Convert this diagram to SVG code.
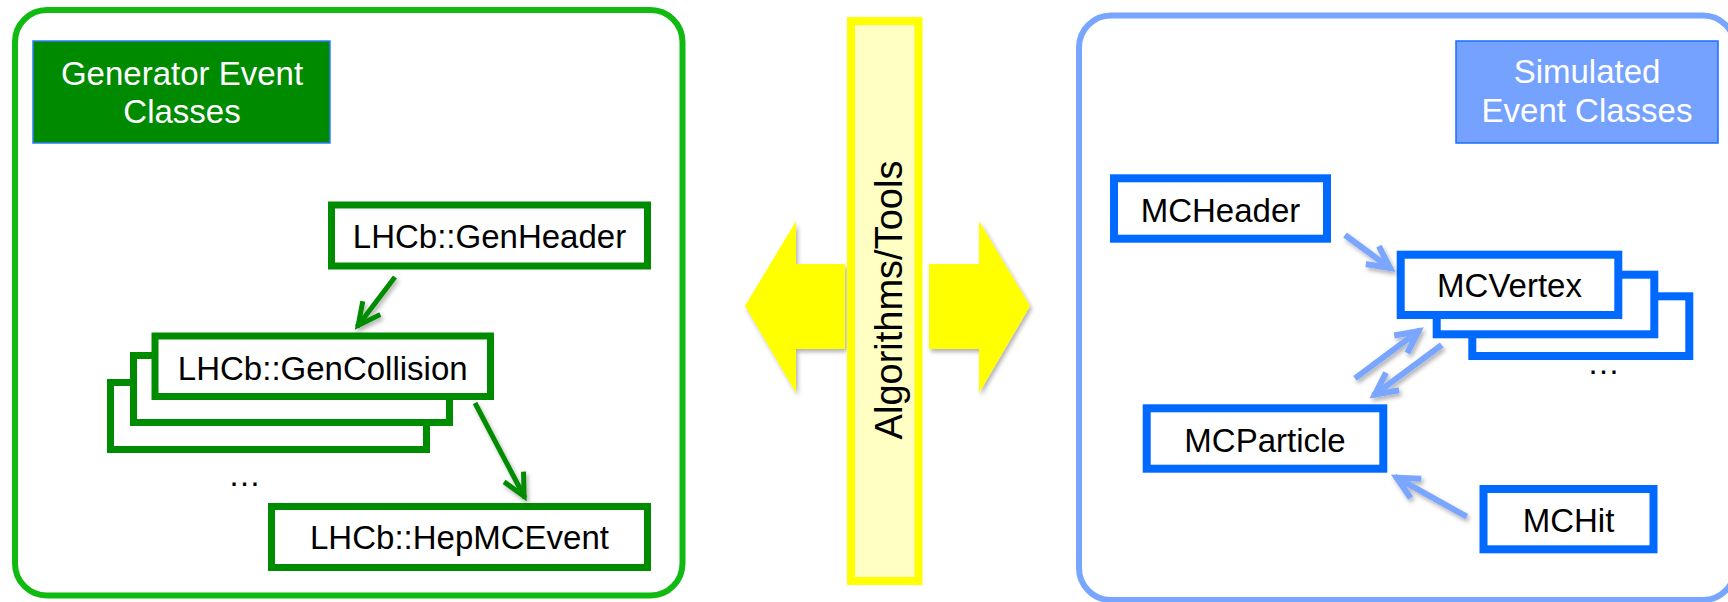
<svg xmlns="http://www.w3.org/2000/svg" width="1728" height="602" viewBox="0 0 1728 602">
  <defs>
    <filter id="shadow" x="-30%" y="-30%" width="160%" height="160%">
      <feDropShadow dx="2" dy="3" stdDeviation="2" flood-color="#000" flood-opacity="0.3"/>
    </filter>
    <marker id="chevG" markerUnits="userSpaceOnUse" viewBox="-30 -20 40 40" markerWidth="40" markerHeight="40" refX="0" refY="0" orient="auto" overflow="visible">
      <path d="M-24,-11 L-2,0 L-24,11" fill="none" stroke="#008c00" stroke-width="5"/>
    </marker>
    <marker id="chevB" markerUnits="userSpaceOnUse" viewBox="-30 -20 40 40" markerWidth="40" markerHeight="40" refX="0" refY="0" orient="auto" overflow="visible">
      <path d="M-24,-11 L-2,0 L-24,11" fill="none" stroke="#7aa6ff" stroke-width="6"/>
    </marker>
  </defs>
  <style>
    text { font-family: "Liberation Sans", Arial, sans-serif; font-size: 33px; fill: #000; }
    .title { fill: #fff; text-anchor: middle; }
    .label { text-anchor: middle; }
    .gnode { fill: #fff; stroke: #008c00; stroke-width: 7; }
    .bnode { fill: #fff; stroke: #0069ff; stroke-width: 8; }
    .gconn { fill: none; stroke: #008c00; stroke-width: 5; marker-end: url(#chevG); }
    .bconn { fill: none; stroke: #7aa6ff; stroke-width: 6; marker-end: url(#chevB); }
  </style>

  <rect width="1728" height="602" fill="#fff"/>

  <!-- generator-side panel -->
  <g id="generator-panel">
    <rect x="15" y="10" width="667.5" height="585.5" rx="32" fill="#fff" stroke="#10ba10" stroke-width="6"/>
    <rect x="33" y="41" width="297" height="102" fill="#008a00" stroke="#2d7cff" stroke-width="1.5"/>
    <text class="title" x="182" y="85">Generator Event</text>
    <text class="title" x="182" y="123">Classes</text>
  </g>

  <!-- simulation-side panel -->
  <g id="simulated-panel">
    <rect x="1079" y="15.5" width="656" height="584.5" rx="32" fill="#fff" stroke="#77a5ff" stroke-width="6"/>
    <rect x="1456" y="41" width="262" height="102" fill="#75a2ff" stroke="#1a6dff" stroke-width="1.5"/>
    <text class="title" x="1587" y="83">Simulated</text>
    <text class="title" x="1587" y="122">Event Classes</text>
  </g>

  <!-- algorithms bar with the two-way exchange arrows -->
  <g id="algorithms">
    <g filter="url(#shadow)" fill="#ffff00">
      <polygon points="845,264 796,264 796,221 745,306 796,393 796,349 845,349"/>
      <polygon points="929,264 979,264 979,221 1030,306 979,393 979,349 929,349"/>
    </g>
    <rect x="851" y="21" width="67.5" height="560" fill="#ffffc4" stroke="#ffff00" stroke-width="8"/>
    <text transform="translate(901.5,300) rotate(-90)" text-anchor="middle" style="font-size:38px">Algorithms/Tools</text>
  </g>

  <!-- generator nodes -->
  <g id="gen-header">
    <rect class="gnode" x="331.5" y="205" width="316" height="61"/>
    <text class="label" x="489.5" y="248">LHCb::GenHeader</text>
  </g>
  <g id="gen-collision">
    <rect class="gnode" x="110.5" y="382.5" width="316" height="67"/>
    <rect class="gnode" x="133.5" y="355.5" width="316" height="67"/>
    <rect class="gnode" x="155" y="336" width="335.5" height="60.5"/>
    <text class="label" x="322.75" y="380">LHCb::GenCollision</text>
    <text class="label" x="244.5" y="486">…</text>
  </g>
  <g id="hepmc-event">
    <rect class="gnode" x="271.5" y="506.5" width="376" height="61"/>
    <text class="label" x="459.5" y="549">LHCb::HepMCEvent</text>
  </g>

  <!-- simulated nodes -->
  <g id="mc-header">
    <rect class="bnode" x="1114" y="178.3" width="213" height="60.4"/>
    <text class="label" x="1220.5" y="221.5">MCHeader</text>
  </g>
  <g id="mc-vertex">
    <rect class="bnode" x="1472.3" y="296.3" width="217" height="59.7"/>
    <rect class="bnode" x="1436.7" y="274.7" width="217.6" height="59.6"/>
    <rect class="bnode" x="1400.7" y="254.7" width="217.6" height="60.3"/>
    <text class="label" x="1509.5" y="296.7">MCVertex</text>
    <text class="label" x="1603.5" y="374">…</text>
  </g>
  <g id="mc-particle">
    <rect class="bnode" x="1146.7" y="408.3" width="236.6" height="60.4"/>
    <text class="label" x="1265" y="451.7">MCParticle</text>
  </g>
  <g id="mc-hit">
    <rect class="bnode" x="1483.5" y="489" width="170" height="60.3"/>
    <text class="label" x="1568.5" y="531.7">MCHit</text>
  </g>

  <!-- connectors -->
  <g id="connectors">
    <g filter="url(#shadow)">
      <line class="gconn" x1="395" y1="277" x2="357" y2="327"/>
      <line class="gconn" x1="475" y1="403" x2="525" y2="498"/>
      <line class="bconn" x1="1345" y1="235" x2="1391.7" y2="269.3"/>
      <line class="bconn" x1="1355" y1="378.3" x2="1420" y2="330"/>
      <line class="bconn" x1="1441.7" y1="345" x2="1373.3" y2="395.7"/>
      <line class="bconn" x1="1466.7" y1="516.7" x2="1395" y2="476.7"/>
    </g>
  </g>
</svg>
